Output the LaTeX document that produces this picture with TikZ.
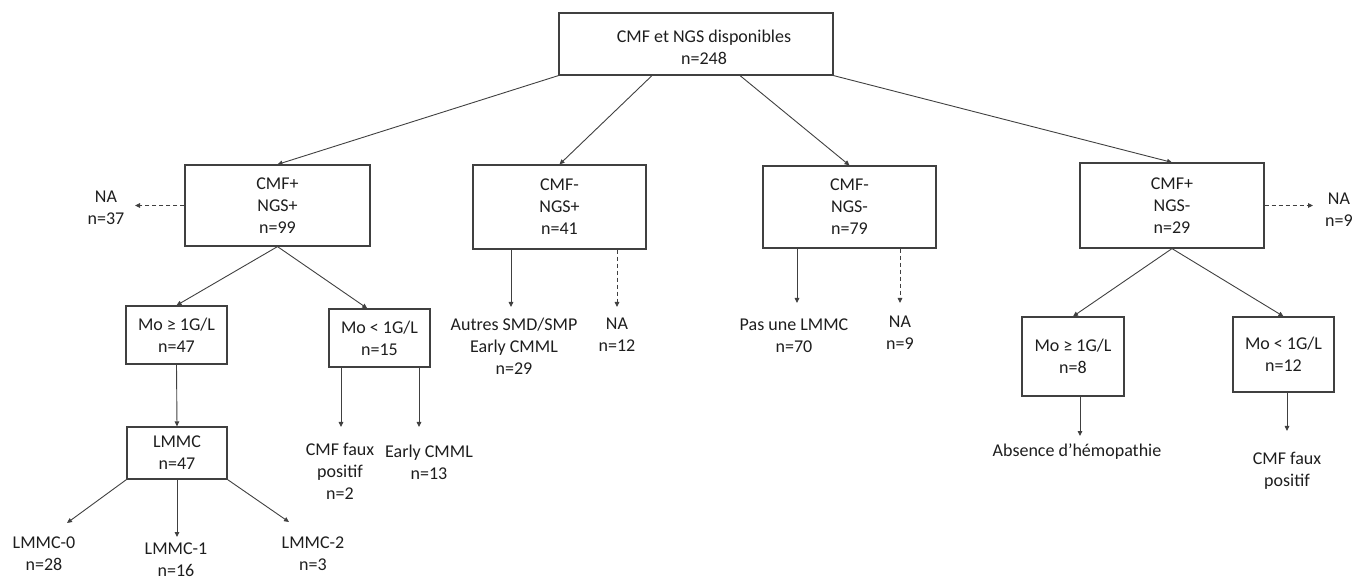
\documentclass[tikz,border=0pt]{standalone}
\usepackage{fontspec}
\setmainfont{Carlito}
\usetikzlibrary{arrows.meta,calc}
\definecolor{linec}{RGB}{64,64,64}
\definecolor{textc}{RGB}{30,30,30}
\begin{document}
\begin{tikzpicture}[x=1pt,y=-1pt,
  txt/.style={font=\fontsize{18}{22}\selectfont, text=textc, align=center, inner sep=0pt},
  box/.style={txt, draw=linec, line width=1.2pt, rectangle},
  lbl/.style={txt},
  arr/.style={draw=linec, line width=0.9pt, -{Triangle[length=5pt,width=4.5pt]}},
  darr/.style={arr, dash pattern=on 4pt off 3pt}]
\useasboundingbox (0,0) rectangle (1353,585);
% boxes
\node[box, minimum width=274pt, minimum height=62pt] (top) at (696,44) {};
\node[lbl] (topt) at (704,47) {CMF et NGS disponibles\\n=248};
\node[box, minimum width=185pt, minimum height=81pt] (a) at (277.5,205.5) {CMF+\\NGS+\\n=99};
\node[box, minimum width=173pt, minimum height=84pt] (b) at (559.5,207) {CMF-\\NGS+\\n=41};
\node[box, minimum width=173pt, minimum height=82pt] (c) at (849.5,207) {CMF-\\NGS-\\n=79};
\node[box, minimum width=184pt, minimum height=85pt] (d) at (1172,205.5) {CMF+\\NGS-\\n=29};
\node[box, minimum width=101pt, minimum height=58pt] (a1) at (176.5,335) {Mo ≥ 1G/L\\n=47};
\node[box, minimum width=101pt, minimum height=58pt] (a2) at (379.5,338) {Mo < 1G/L\\n=15};
\node[box, minimum width=100pt, minimum height=52pt] (lm) at (177,453) {LMMC\\n=47};
\node[box, minimum width=102pt, minimum height=79pt] (d1) at (1073,356.5) {Mo ≥ 1G/L\\n=8};
\node[box, minimum width=101pt, minimum height=75pt] (d2) at (1283.5,354.5) {Mo < 1G/L\\n=12};
% labels
\node[lbl] (na1) at (106,207.5) {NA\\n=37};
\node[lbl] (autres) at (514,346.5) {Autres SMD/SMP\\Early CMML\\n=29};
\node[lbl] (na2) at (617,334.5) {NA\\n=12};
\node[lbl] (pas) at (794,335.5) {Pas une LMMC\\n=70};
\node[lbl] (na3) at (900,332.5) {NA\\n=9};
\node[lbl] (na4) at (1339,210) {NA\\n=9};
\node[lbl] (cfp1) at (340,471) {CMF faux\\positif\\n=2};
\node[lbl] (early) at (429,462) {Early CMML\\n=13};
\node[lbl] (l0) at (44,553.5) {LMMC-0\\n=28};
\node[lbl] (l1) at (176,559.5) {LMMC-1\\n=16};
\node[lbl] (l2) at (313,553.5) {LMMC-2\\n=3};
\node[lbl] (abs) at (1077,452) {Absence d’hémopathie};
\node[lbl] (cfp2) at (1287,471) {CMF faux\\positif};
% arrow ends
\coordinate (ena1) at (135,205.5);
\coordinate (ena4) at (1313,205.5);
\coordinate (el0) at (67,523);
\coordinate (el1) at (177,537);
\coordinate (el2) at (289,522);
\coordinate (ecfp1) at (341,427);
\coordinate (eearly) at (419,427);
\coordinate (eautres) at (511,307);
\coordinate (ena2) at (617,307);
\coordinate (epas) at (797,303);
\coordinate (ena3) at (900,303);
\coordinate (eabs) at (1080,436);
\coordinate (ecfp2) at (1287,431);
% connectors
\draw[arr] (top.south west) -- (a.north);
\draw[arr] ($(top.south west)!0.34!(top.south east)$) -- (b.north);
\draw[arr] ($(top.south west)!0.66!(top.south east)$) -- (c.north);
\draw[arr] (top.south east) -- (d.north);
\draw[darr] (a.west) -- (ena1);
\draw[arr] (a.south) -- (a1.north);
\draw[arr] (a.south) -- ($(a2.north west)!0.38!(a2.north east)$);
\draw[arr] (a1.south) -- (lm.north);
\draw[arr] (lm.south west) -- (el0);
\draw[arr] (lm.south -| el1) -- (el1);
\draw[arr] (lm.south east) -- (el2);
\draw[arr] (a2.south -| ecfp1) -- (ecfp1);
\draw[arr] (a2.south -| eearly) -- (eearly);
\draw[arr] (b.south -| eautres) -- (eautres);
\draw[darr] (b.south -| ena2) -- (ena2);
\draw[arr] (c.south -| epas) -- (epas);
\draw[darr] (c.south -| ena3) -- (ena3);
\draw[darr] (d.east) -- (ena4);
\draw[arr] (d.south) -- (d1.north);
\draw[arr] (d.south) -- (d2.north);
\draw[arr] (d1.south -| eabs) -- (eabs);
\draw[arr] (d2.south -| ecfp2) -- (ecfp2);
\end{tikzpicture}
\end{document}
